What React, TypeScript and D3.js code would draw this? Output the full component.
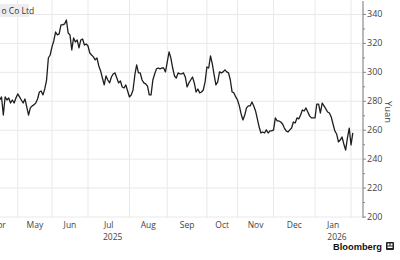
import React from "react";
import * as d3 from "d3";

// Trading-day index (counted from 1 Apr 2025) of the first close shown
const startDay = 11;
// Daily closes (yuan)
const closes: number[] = [
  280.9, 283.0, 270.5, 283.0, 280.9, 282.3, 278.8, 280.9, 278.8, 282.3,
  285.1, 283.0, 280.9, 278.8, 281.6, 276.1, 270.5, 275.4, 276.8, 277.5,
  278.8, 281.6, 286.4, 287.1, 284.4, 288.5, 294.7, 309.9, 312.0, 317.6,
  321.7, 327.9, 325.9, 326.6, 332.8, 332.8, 333.5, 336.2, 327.2, 325.9,
  315.5, 323.8, 321.0, 322.4, 316.9, 322.4, 323.1, 318.9, 319.6, 318.2,
  313.4, 312.0, 310.7, 308.6, 309.9, 304.4, 301.0, 296.1, 291.3, 297.5,
  294.7, 292.7, 296.8, 298.9, 299.6, 296.1, 292.7, 294.0, 289.9, 289.2,
  291.3, 287.1, 283.0, 284.4, 287.8, 298.2, 305.1, 299.6, 299.6, 294.7,
  292.7, 292.0, 290.6, 284.4, 284.4, 294.7, 298.9, 302.4, 303.0, 302.4,
  303.0, 303.0, 300.3, 307.2, 314.1, 309.9, 303.0, 297.5, 296.1, 299.6,
  298.9, 298.9, 299.6, 296.8, 289.9, 292.7, 294.7, 296.8, 292.7, 286.4,
  288.5, 285.8, 286.4, 287.8, 293.4, 303.7, 303.0, 311.4, 305.8, 298.2,
  291.3, 293.4, 300.3, 299.6, 300.3, 301.7, 300.3, 299.6, 294.7, 286.4,
  285.8, 283.0, 280.9, 276.8, 271.2, 267.1, 270.5, 275.4, 276.8, 276.8,
  279.5, 276.8, 273.3, 267.8, 262.2, 258.1, 258.8, 258.1, 260.2, 258.1,
  259.5, 259.5, 260.2, 268.5, 266.4, 266.4, 265.7, 264.3, 261.5, 259.5,
  258.8, 260.2, 261.5, 265.7, 265.0, 268.5, 267.8, 270.5, 274.0, 273.3,
  275.4, 272.6, 269.9, 268.5, 268.5, 268.5, 278.1, 278.1, 271.9, 278.8,
  276.8, 274.7, 272.6, 271.9, 269.2, 264.3, 259.5, 257.4, 251.9, 253.2,
  255.3, 250.5, 246.3, 254.6, 261.5, 249.8, 258.1,
];

const monthLabels = ["Apr", "May", "Jun", "Jul", "Aug", "Sep", "Oct", "Nov", "Dec", "Jan", "Feb"];
// first trading day of each month (index from 1 Apr 2025)
const monthStartDay = [0, 21, 40, 60, 83, 104, 126, 143, 163, 186, 206];
const labelledMonths = ["Apr", "May", "Jun", "Jul", "Aug", "Sep", "Oct", "Nov", "Dec", "Jan"];
const yearLabels: Record<string, string> = { Jul: "2025", Jan: "2026" };
const yTicks = [200, 220, 240, 260, 280, 300, 320, 340];
const yMinorTicks = [210, 230, 250, 270, 290, 310, 330];
const titleText = "o Co Ltd";
const unitText = "Yuan";

const W = 400;
const H = 260;
const axisX = 363;
const FONT = "'Open Sans', 'Noto Sans', Arial, sans-serif";

export default function App() {
  const x = d3.scaleLinear().domain([60, 186]).range([88, 315]);
  const y = d3.scaleLinear().domain([200, 340]).range([217, 14.5]);

  const line = d3
    .line<number>()
    .x((_, i) => x(startDay + i))
    .y((d) => y(d));

  const monthCenters = labelledMonths.map((m) => {
    const i = monthLabels.indexOf(m);
    return { m, cx: (x(monthStartDay[i]) + x(monthStartDay[i + 1])) / 2 };
  });

  return (
    <svg
      width={W}
      height={H}
      style={{ position: "absolute", left: 0, top: 0, background: "#fff" }}
      fontFamily={FONT}
    >
      <rect x={0} y={0} width={W} height={H} fill="#fff" />
      {/* horizontal grid */}
      {yTicks.map((t) => (
        <line key={"h" + t} x1={0} x2={axisX} y1={y(t)} y2={y(t)} stroke="#e9e9e9" strokeWidth={1} />
      ))}
      {/* vertical month grid */}
      {monthStartDay.slice(1).map((d) => (
        <line key={"v" + d} x1={x(d)} x2={x(d)} y1={0} y2={218} stroke="#e9e9e9" strokeWidth={1} />
      ))}
      {/* price line */}
      <path d={line(closes) || ""} fill="none" stroke="#1e1e1e" strokeWidth={1.3} strokeLinejoin="round" />
      {/* right axis */}
      <line x1={axisX} x2={axisX} y1={1} y2={218} stroke="#8a8a8a" strokeWidth={1.2} />
      {yTicks.map((t) => (
        <g key={"t" + t}>
          <line x1={axisX} x2={axisX + 3} y1={y(t)} y2={y(t)} stroke="#8a8a8a" strokeWidth={1} />
          <text x={axisX + 4} y={y(t)} dy="0.33em" fontSize={9} fill="#444">
            {t}
          </text>
        </g>
      ))}
      {yMinorTicks.map((t) => (
        <line key={"m" + t} x1={axisX} x2={axisX + 2} y1={y(t)} y2={y(t)} stroke="#8a8a8a" strokeWidth={1} />
      ))}
      <text
        transform={`translate(388,112) rotate(90)`}
        textAnchor="middle"
        dy="0.33em"
        fontSize={9.5}
        fill="#444"
      >
        {unitText}
      </text>
      {/* month labels */}
      {monthCenters.map(({ m, cx }) => (
        <g key={"l" + m}>
          <text x={cx} y={228} textAnchor="middle" fontSize={8.5} fill="#444">
            {m}
          </text>
          {yearLabels[m] && (
            <text x={cx + 4} y={240} textAnchor="middle" fontSize={8.5} fill="#444">
              {yearLabels[m]}
            </text>
          )}
        </g>
      ))}
      {/* title box */}
      <rect x={0} y={4} width={29} height={13} fill="#ededed" />
      <text x={1.5} y={13.5} fontSize={8.5} fill="#333">
        {titleText}
      </text>
      {/* Bloomberg mark */}
      <text
        x={333}
        y={250}
        fontSize={9.5}
        fontWeight="bold"
        fill="#111"
        textLength={49}
        lengthAdjust="spacingAndGlyphs"
        fontFamily="'Liberation Sans', Arial, sans-serif"
      >
        Bloomberg
      </text>
      <rect x={386} y={242} width={8} height={8} rx={1} fill="#222" />
      <rect x={387.5} y={243.5} width={2} height={2} fill="#fff" />
      <rect x={390.5} y={243.5} width={2} height={2} fill="#fff" />
      <rect x={387.5} y={246.5} width={5} height={1.5} fill="#fff" />
    </svg>
  );
}
